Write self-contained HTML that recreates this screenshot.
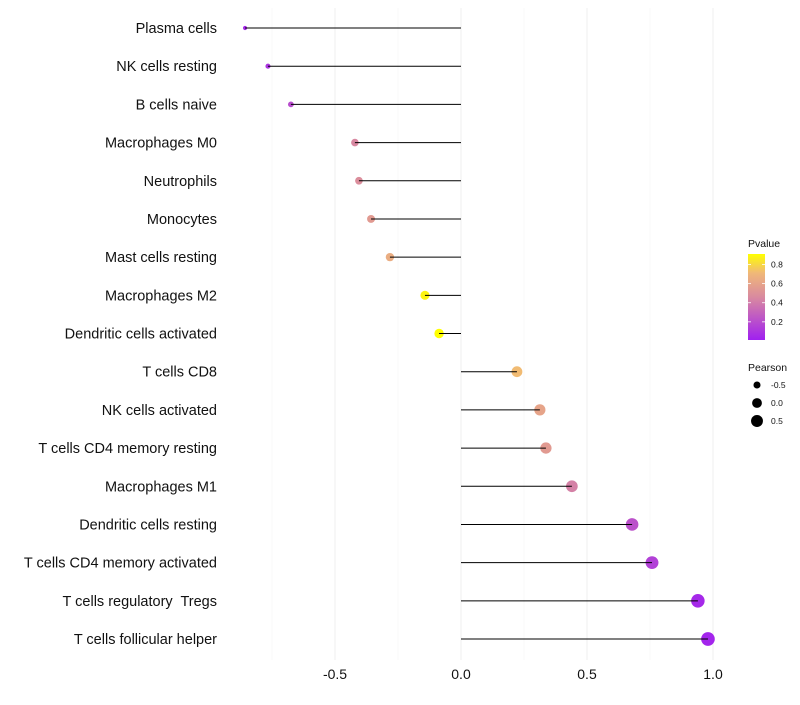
<!DOCTYPE html>
<html><head><meta charset="utf-8"><style>
body{margin:0;background:#fff;font-family:"Liberation Sans",sans-serif}
text{white-space:pre}
</style></head><body>
<svg id="c" width="800" height="700" xmlns="http://www.w3.org/2000/svg">
<defs><linearGradient id="pg" x1="0" y1="1" x2="0" y2="0">
<stop offset="0" stop-color="#a020f0"/><stop offset="0.5" stop-color="#d98a9f"/><stop offset="0.78" stop-color="#f0b878"/><stop offset="1" stop-color="#ffff00"/></linearGradient></defs>
</svg>
<script>
const categories=["Plasma cells","NK cells resting","B cells naive","Macrophages M0","Neutrophils","Monocytes","Mast cells resting","Macrophages M2","Dendritic cells activated","T cells CD8","NK cells activated","T cells CD4 memory resting","Macrophages M1","Dendritic cells resting","T cells CD4 memory activated","T cells regulatory  Tregs","T cells follicular helper"];
const pearson=[-0.857,-0.766,-0.675,-0.421,-0.405,-0.357,-0.282,-0.143,-0.087,0.222,0.313,0.337,0.440,0.679,0.758,0.940,0.980];
const pvalue=[0.05,0.1,0.2,0.45,0.48,0.55,0.65,0.88,0.93,0.72,0.6,0.55,0.42,0.22,0.15,0.05,0.03];
const xTicks=[-0.5,0,0.5,1];
const xTickLabels=["-0.5","0.0","0.5","1.0"];
const minorTicks=[-0.75,-0.25,0.25,0.75];
const pTicks=[0.2,0.4,0.6,0.8];
const sizeTicks=[-0.5,0,0.5];
const NS="http://www.w3.org/2000/svg";
const svg=document.getElementById('c');
const x=v=>461+v*252;
const y=i=>28+i*(611/16);
const r=v=>Math.sqrt(Math.max(1,24+23*v));
function lerp(a,b,t){return a.map((c,i)=>Math.round(c+(b[i]-c)*t));}
function color(p){const t=Math.max(0,Math.min(1,(p-0.01)/0.9));
 const stops=[[0,[160,32,240]],[0.5,[217,138,159]],[0.78,[240,184,120]],[1,[255,255,0]]];
 for(let i=1;i<stops.length;i++){if(t<=stops[i][0]){const s=stops[i-1],e=stops[i];const c=lerp(s[1],e[1],(t-s[0])/(e[0]-s[0]));return `rgb(${c})`;}}
 return 'rgb(255,255,0)';}
function el(tag,attrs,txt){const e=document.createElementNS(NS,tag);for(const k in attrs)e.setAttribute(k,attrs[k]);if(txt!==undefined)e.textContent=txt;svg.appendChild(e);return e;}
minorTicks.forEach(v=>{const g=el('line',{x1:x(v),x2:x(v),y1:8,y2:660,stroke:'#f4f4f4','stroke-width':0.6});

});
xTicks.forEach((v,i)=>{const g=el('line',{x1:x(v),x2:x(v),y1:8,y2:660,stroke:'#efefef','stroke-width':1});


const t=el('text',{x:x(v),y:679,'text-anchor':'middle','font-size':14,fill:'#111'},xTickLabels[i]);

});
categories.forEach((c,i)=>{
const t=el('text',{x:217,y:y(i)+5,'text-anchor':'end','font-size':14.5,fill:'#111'},c);


const p=el('circle',{cx:x(pearson[i]),cy:y(i),r:r(pearson[i]),fill:color(pvalue[i])});


const l=el('line',{x1:x(0),x2:x(pearson[i]),y1:y(i),y2:y(i),stroke:'#000','stroke-width':1});

});
let t=el('text',{x:748,y:247,'font-size':10.5,fill:'#111'},'Pvalue');


const bar=el('rect',{x:748,y:254,width:17,height:86,fill:'url(#pg)'});


const py=p=>340-(p-0.01)/0.9*86;
pTicks.forEach(p=>{el('line',{x1:748,x2:751,y1:py(p),y2:py(p),stroke:'#fff','stroke-width':0.8});
el('line',{x1:762,x2:765,y1:py(p),y2:py(p),stroke:'#fff','stroke-width':0.8});
const tt=el('text',{x:771,y:py(p)+3,'font-size':8.5,fill:'#111'},p.toFixed(1));

});
t=el('text',{x:748,y:371,'font-size':10.5,fill:'#111'},'Pearson');


sizeTicks.forEach((v,i)=>{const cy=385+i*18;
const c=el('circle',{cx:757,cy:cy,r:r(v),fill:'#000'});


const tt=el('text',{x:771,y:cy+3,'font-size':8.5,fill:'#111'},v===0?'0.0':v.toFixed(1));

});
</script>
</body></html>
